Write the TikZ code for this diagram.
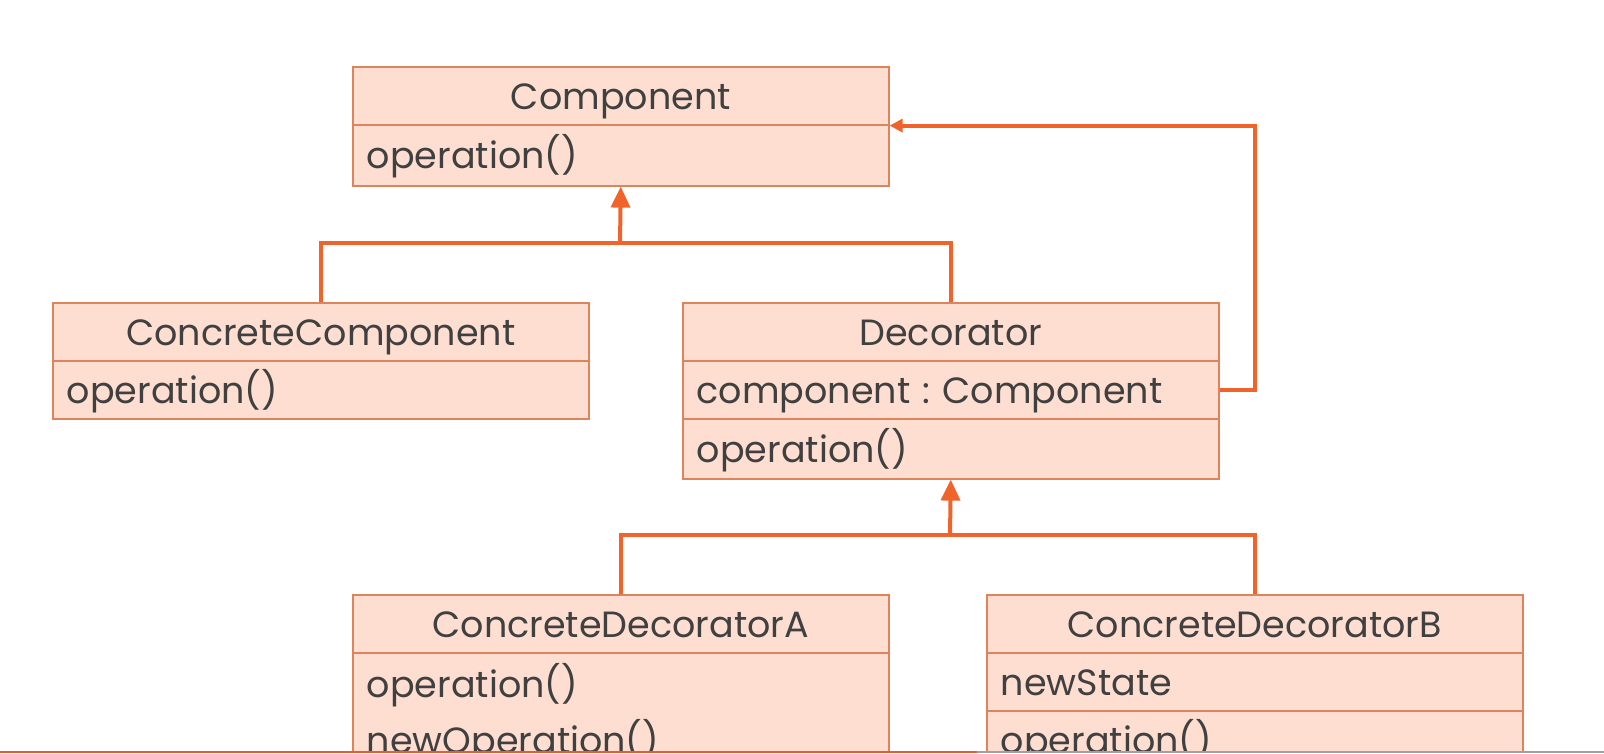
\documentclass[tikz,border=0pt]{standalone}
\usepackage{fontspec}
\setmainfont{Poppins}
\usetikzlibrary{arrows.meta}

\definecolor{boxfill}{HTML}{FDDED1}
\definecolor{boxline}{HTML}{DD845C}
\definecolor{linkorange}{HTML}{F0632A}
\definecolor{textgray}{HTML}{404040}
\definecolor{barorange}{HTML}{EE5A2A}
\definecolor{bargray}{HTML}{A0A0A0}

\newcommand{\umlfont}{\frenchspacing\fontsize{36.5}{56}\selectfont}

\tikzset{
  part/.style={draw=boxline, fill=boxfill, line width=1.6pt,
    minimum width=536pt, inner sep=0pt, anchor=north west,
    font=\umlfont, text=textgray},
  head/.style={part, minimum height=58pt, text height=30pt, text depth=3pt},
  field/.style={part, text width=508pt, inner xsep=14pt, align=left,
    text height=30pt, text depth=3pt},
  conn/.style={draw=linkorange, line width=4pt, line join=miter},
  gen/.style={conn, -{Triangle[length=21pt, width=19pt]}},
  assoc/.style={conn, -{Triangle[length=13pt, width=13pt]}}
}

\begin{document}
\begin{tikzpicture}[x=1pt, y=-1pt]
\useasboundingbox (0,0) rectangle (1604,753);
\fill[white] (0,0) rectangle (1604,753);

\begin{scope}
\clip (0,0) rectangle (1604,751);

% Component
\node[head]  (comph) at (352,66)  {Component};
\node[field, minimum height=61pt] (compr) at (352,124) {operation()};

% ConcreteComponent
\node[head]  (cch) at (52,302) {ConcreteComponent};
\node[field, minimum height=58pt] (ccr) at (52,360) {operation()};

% Decorator
\node[head]  (dech) at (682,302) {Decorator};
\node[field, minimum height=58pt] (decr1) at (682,360) {component : Component};
\node[field, minimum height=60pt] (decr2) at (682,418) {operation()};

% ConcreteDecoratorA
\node[head]  (cdah) at (352,594) {ConcreteDecoratorA};
\node[field, minimum height=120pt, text height=, text depth=] (cdar) at (352,652)
  {operation()\\newOperation()};

% ConcreteDecoratorB
\node[head]  (cdbh) at (986,594) {ConcreteDecoratorB};
\node[field, minimum height=58pt] (cdbr1) at (986,652) {newState};
\node[field, minimum height=58pt] (cdbr2) at (986,710) {operation()};

% generalisation towards Component
\coordinate (busa) at (620,243);
\draw[conn] (cch.north) |- (busa) -| (dech.north);
\draw[gen] (busa) -- (compr.south);

% generalisation towards Decorator
\coordinate (busb) at (950,535);
\draw[conn] (cdah.north) |- (busb) -| (cdbh.north);
\draw[gen] (busb) -- (decr2.south);

% Decorator holds a Component
\draw[assoc] (decr1.east) -- ++(35,0) |- (comph.south east);
\end{scope}

% playback bar along the lower edge
\fill[barorange] (0,750.5) rectangle (977,753);
\fill[bargray] (977,750.5) rectangle (1604,753);
\end{tikzpicture}
\end{document}
